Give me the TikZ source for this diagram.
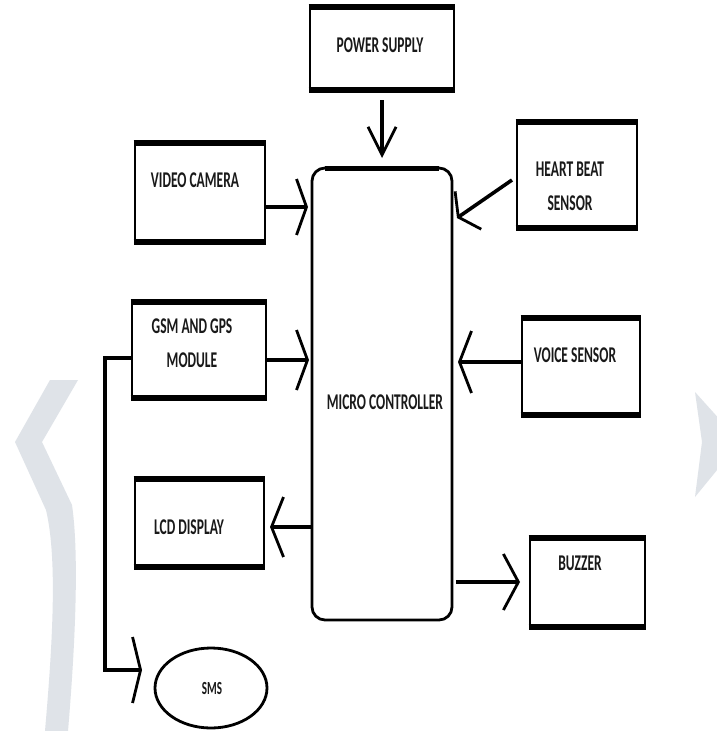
\documentclass[tikz,border=0pt]{standalone}
\usepackage{fontspec}
\usepackage{graphicx}
\setmainfont{Carlito}
\usetikzlibrary{arrows.meta,calc,shapes.geometric}
\newcommand\sqz[1]{\scalebox{0.6}[1]{#1}}
\definecolor{chev}{HTML}{DFE3E8}
\tikzset{
  every node/.style={outer sep=0pt},
  box/.style={draw, line width=2.6pt, inner sep=0pt},
  edgethick/.style={line width=5.5pt, line cap=butt},
  lbl/.style={font=\fontsize{22.5}{34}\selectfont\bfseries, inner sep=0pt, align=center, text=black!90},
  conn/.style={line width=3.6pt},
  arr/.style 2 args={-{Straight Barb[length=#1pt, width=#2pt, line width=2.8pt]}},
}
\begin{document}
\begin{tikzpicture}[x=1pt,y=-1pt]
\path[use as bounding box] (0,0) rectangle (717,731);
\clip (0,0) rectangle (717,731);
\fill[white] (0,0) rectangle (717,731);
% background chevrons
\fill[chev] (50,380) -- (78,380) -- (42,442) -- (72,505)
  .. controls (80,560) and (74,660) .. (68,731) -- (45,731)
  .. controls (52,650) and (58,560) .. (46,510) -- (15,442) -- cycle;
\fill[chev] (695,392) -- (740,442) -- (695,497) -- (702,442) -- cycle;

% boxes
\node[box, minimum width=144pt, minimum height=83pt] (pwr) at (382,48.5) {};
\node[box, minimum width=130pt, minimum height=99pt] (vid) at (200,192.5) {};
\node[box, minimum width=120pt, minimum height=106pt] (hrt) at (577,175) {};
\node[box, minimum width=134pt, minimum height=96pt] (gsm) at (199,350) {};
\node[box, minimum width=118pt, minimum height=97pt] (voi) at (581,366.5) {};
\node[box, minimum width=129pt, minimum height=88pt] (lcd) at (199.5,523) {};
\node[box, minimum width=115pt, minimum height=89pt] (buz) at (587.5,582.5) {};
\node[draw, line width=2.8pt, rounded corners=13pt, minimum width=140pt, minimum height=452pt, inner sep=0pt] (mc) at (382,394) {};
\draw[line width=5pt] ($(mc.north west)+(13,0)$) -- ($(mc.north east)+(-13,0)$);
\node[draw, ellipse, line width=2.8pt, minimum width=112pt, minimum height=80pt, inner sep=0pt] (sms) at (211,688) {};

\foreach \n in {pwr,vid,hrt,gsm,voi,lcd,buz} {
  \draw[edgethick] ($(\n.north west)+(-1.3,0)$) -- ($(\n.north east)+(1.3,0)$);
  \draw[edgethick] ($(\n.south west)+(-1.3,0)$) -- ($(\n.south east)+(1.3,0)$);
}

% labels
\node[lbl] (tpwr) at (380,45) {\sqz{POWER SUPPLY}};
\node[lbl] (tvid) at (195,180) {\sqz{VIDEO CAMERA}};
\node[lbl] (thrt) at (570,186.5) {\sqz{HEART BEAT}\\\sqz{SENSOR}};
\node[lbl] (tgsm) at (192,343.5) {\sqz{GSM AND GPS}\\\sqz{MODULE}};
\node[lbl] (tvoi) at (575,355) {\sqz{VOICE SENSOR}};
\node[lbl] (tlcd) at (189,527) {\sqz{LCD DISPLAY}};
\node[lbl] (tbuz) at (580,563) {\sqz{BUZZER}};
\node[lbl] (tmc) at (385,402) {\sqz{MICRO CONTROLLER}};
\node[lbl, font=\fontsize{18.5}{22}\selectfont\bfseries] (tsms) at (212,688) {\sqz{SMS}};

% connectors
\draw[conn, arr={28}{28}, shorten <=10pt, shorten >=10pt] (pwr.south) -- (mc.north);
\draw[conn, arr={10}{56}, shorten >=4pt] (vid.east |- 0,207) -- (mc.west |- 0,207);
\draw[conn, arr={12}{46}] ($(hrt.west)+(-5,5)$) -- ($(mc.east)+(5,-176)$);
\draw[conn, arr={11}{60}, shorten >=3pt] (gsm.east |- 0,360) -- (mc.west |- 0,360);
\draw[conn, arr={12}{62}, shorten >=6pt] (voi.west |- 0,362) -- (mc.east |- 0,362);
\draw[conn, arr={12}{60}, shorten >=6pt] (mc.west |- 0,527) -- (lcd.east |- 0,527);
\draw[conn, arr={15}{56}, shorten <=4pt, shorten >=10pt] (mc.east |- 0,582) -- (buz.west |- 0,582);
\coordinate (smsin) at (142,670);
\draw[conn, line width=3.2pt, arr={8}{66}] (gsm.west |- 0,358) -- (105,358) -- (105,670) -- (smsin);
\end{tikzpicture}
\end{document}
